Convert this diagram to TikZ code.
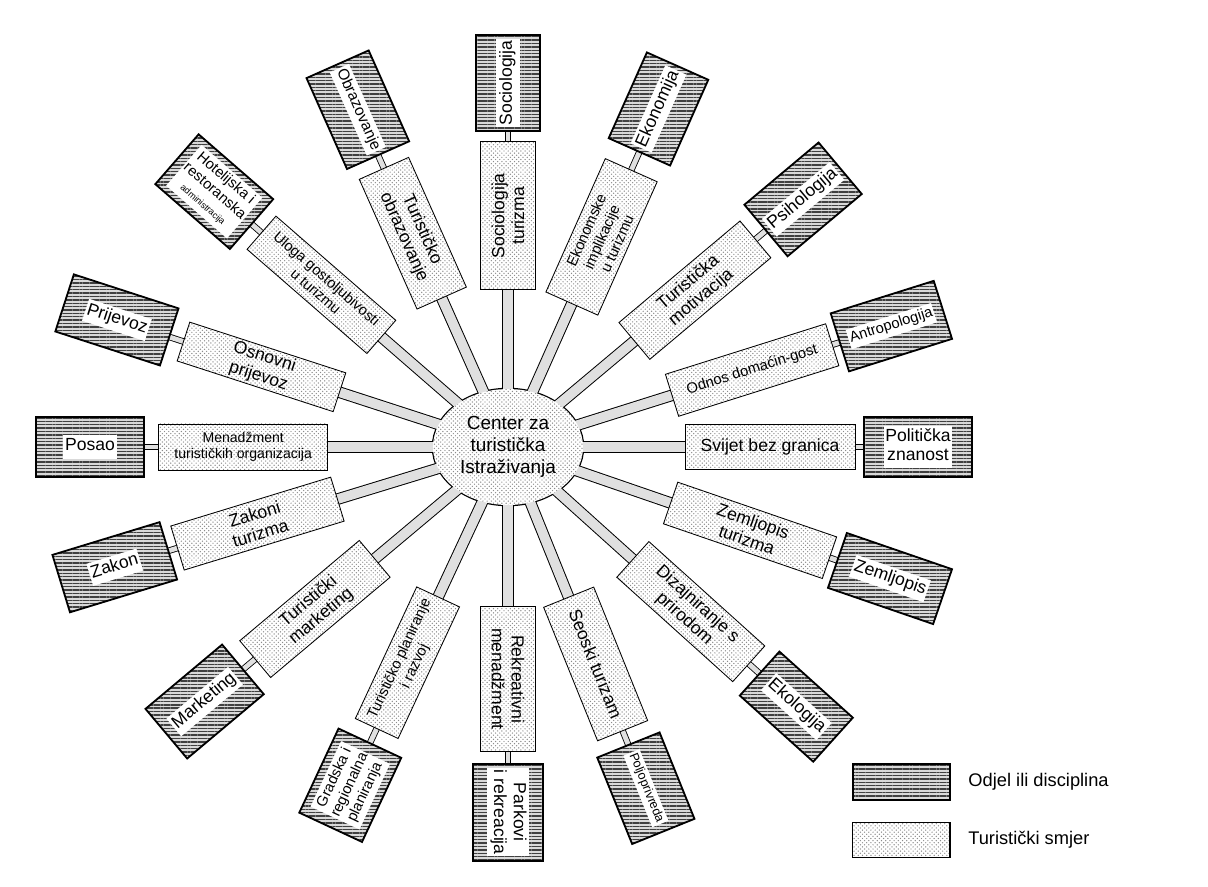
\documentclass[tikz,border=0pt]{standalone}
\usepackage{fontspec}
\setmainfont{Liberation Sans}
\usetikzlibrary{shapes.geometric,patterns,patterns.meta,backgrounds,positioning}
\setlength{\fboxsep}{1.2pt}
\def\bijelo#1{\colorbox{white}{\begin{tabular}{@{}c@{}}#1\end{tabular}}}
\tikzset{
  vel/.style 2 args={minimum width=#1cm, minimum height=#2cm},
  smjer/.style={draw, line width=0.6pt, preaction={fill=white}, pattern=crosshatch dots, pattern color=black!45, align=center, inner sep=1pt, font=\fontsize{12.5}{14}\selectfont},
  odjel/.style={draw, line width=1.3pt, preaction={fill=black!15}, pattern={Lines[distance=2.4pt, line width=1pt]}, pattern color=black!75, align=center, inner sep=3pt, font=\fontsize{12.5}{14}\selectfont},
  centar/.style={ellipse, minimum width=3.75cm, minimum height=2.9cm, preaction={fill=white}, pattern=crosshatch dots, pattern color=black!45, align=center, inner sep=0pt, font=\fontsize{13.5}{15.5}\selectfont},
  krak/.style={line width=0.7pt, double=black!12, double distance=0.24cm},
  veza/.style={line width=0.6pt, double=black!12, double distance=0.12cm},
  sitno/.style={font=\fontsize{10.5}{12}\selectfont},
}

\begin{document}
\begin{tikzpicture}
			%%%%% okvir %%%%%
			\useasboundingbox (-12.7,-11) rectangle (17.5,11.175);
			
			%%%%% sredina %%%%%
			\node[centar] (c) at (0,0) {Center za\\turistička\\Istraživanja};
			
			%%%%% turisticki smjerovi %%%%%
			\node[smjer, vel={4.25}{1.12}] (svijet) at (0:6.55) {Svijet bez granica};
			\node[smjer, sitno, vel={4.2}{1.1}, rotate=17.5] (odnos) at (17.5:6.4) {Odnos domaćin-gost};
			\node[smjer, vel={3.95}{1.2}, rotate=40] (motivacija) at (40:6.1) {Turistička\\motivacija};
			\node[smjer, sitno, vel={3.65}{1.42}, rotate=66] (ekonomske) at (66:5.75) {Ekonomske\\implikacije\\u turizmu};
			\node[smjer, vel={3.7}{1.38}, rotate=90] (socturizma) at (90:5.78) {Sociologija\\turizma};
			\node[smjer, vel={3.55}{1.35}, rotate=-66] (turobrazovanje) at (114:5.85) {Turističko\\obrazovanje};
			\node[smjer, sitno, vel={3.97}{1.1}, rotate=-41] (uloga) at (139:6.18) {Uloga gostoljubivosti\\u turizmu};
			\node[smjer, vel={4.1}{1.02}, rotate=-18] (osnovni) at (162:6.48) {Osnovni\\prijevoz};
			\node[smjer, font=\fontsize{10}{11.5}\selectfont, vel={4.22}{1.15}] (menadzment) at (180:6.62) {Menadžment\\turističkih organizacija};
			\node[smjer, vel={4.18}{1.15}, rotate=17] (zakoni) at (197:6.55) {Zakoni\\turizma};
			\node[smjer, vel={3.9}{1.2}, rotate=40] (turmarketing) at (220:6.3) {Turistički\\marketing};
			\node[smjer, sitno, vel={3.63}{1.18}, rotate=65] (planiranje) at (245:5.95) {Turističko planiranje\\i razvoj};
			\node[smjer, vel={3.63}{1.38}, rotate=-90] (rekreativni) at (270:5.8) {Rekreativni\\menadžment};
			\node[smjer, vel={3.6}{1.35}, rotate=-68] (seoski) at (292:5.85) {Seoski turizam};
			\node[smjer, vel={3.9}{1.2}, rotate=-42] (dizajn) at (318:6.15) {Dizajniranje s\\prirodom};
			\node[smjer, vel={4.2}{1.1}, rotate=-19] (zemturizma) at (341:6.4) {Zemljopis\\turizma};
			
			%%%%% odjeli ili discipline %%%%%
			\node[odjel, vel={2.7}{1.52}] (politicka) at (0:10.25) {\bijelo{Politička\\znanost}};
			\node[odjel, sitno, vel={2.7}{1.52}, rotate=17.5] (antropologija) at (17.5:10.05) {\bijelo{Antropologija}};
			\node[odjel, vel={2.4}{1.68}, rotate=40] (psihologija) at (40:9.63) {\bijelo{Psihologija}};
			\node[odjel, vel={2.3}{1.68}, rotate=66] (ekonomija) at (66:9.25) {\bijelo{Ekonomija}};
			\node[odjel, vel={2.38}{1.62}, rotate=90] (sociologija) at (90:9.1) {\bijelo{Sociologija}};
			\node[odjel, font=\fontsize{11}{12.5}\selectfont, vel={2.45}{1.7}, rotate=-66] (obrazovanje) at (114:9.23) {\bijelo{Obrazovanje}};
			\node[odjel, font=\fontsize{10.5}{12}\selectfont, vel={2.47}{1.65}, rotate=-41] (hotelijska) at (139:9.73) {\bijelo{Hotelijska i\\restoranska\\{\fontsize{6.5}{7.5}\selectfont administracija}}};
			\node[odjel, vel={2.75}{1.5}, rotate=-18] (prijevoz) at (162:10.28) {\bijelo{Prijevoz}};
			\node[odjel, vel={2.72}{1.5}] (posao) at (180:10.45) {\bijelo{Posao}};
			\node[odjel, vel={2.8}{1.5}, rotate=17] (zakon) at (197:10.28) {\bijelo{Zakon}};
			\node[odjel, vel={2.5}{1.62}, rotate=40] (marketing) at (220:9.9) {\bijelo{Marketing}};
			\node[odjel, sitno, vel={2.32}{1.73}, rotate=65] (gradska) at (245:9.33) {\bijelo{Gradska i\\regionalna\\planiranja}};
			\node[odjel, vel={2.38}{1.75}, rotate=-90] (parkovi) at (270:9.13) {\bijelo{Parkovi\\i rekreacija}};
			\node[odjel, font=\fontsize{9}{10}\selectfont, vel={2.33}{1.68}, rotate=-68] (poljoprivreda) at (292:9.2) {\bijelo{Poljoprivreda}};
			\node[odjel, vel={2.47}{1.48}, rotate=-42] (ekologija) at (318:9.7) {\bijelo{Ekologija}};
			\node[odjel, vel={2.78}{1.45}, rotate=-19] (zemljopis) at (341:10.1) {\bijelo{Zemljopis}};
			
			%%%%% kraci i veze %%%%%
			\begin{scope}[on background layer]
				\draw[line width=1.8pt] (c.center) ellipse [x radius=1.875cm, y radius=1.45cm];
				
				\draw[krak] (c.center) -- (svijet.center);
				\draw[krak] (c.center) -- (odnos.center);
				\draw[krak] (c.center) -- (motivacija.center);
				\draw[krak] (c.center) -- (ekonomske.center);
				\draw[krak] (c.center) -- (socturizma.center);
				\draw[krak] (c.center) -- (turobrazovanje.center);
				\draw[krak] (c.center) -- (uloga.center);
				\draw[krak] (c.center) -- (osnovni.center);
				\draw[krak] (c.center) -- (menadzment.center);
				\draw[krak] (c.center) -- (zakoni.center);
				\draw[krak] (c.center) -- (turmarketing.center);
				\draw[krak] (c.center) -- (planiranje.center);
				\draw[krak] (c.center) -- (rekreativni.center);
				\draw[krak] (c.center) -- (seoski.center);
				\draw[krak] (c.center) -- (dizajn.center);
				\draw[krak] (c.center) -- (zemturizma.center);
				
				\draw[veza] (svijet.center) -- (politicka.center);
				\draw[veza] (odnos.center) -- (antropologija.center);
				\draw[veza] (motivacija.center) -- (psihologija.center);
				\draw[veza] (ekonomske.center) -- (ekonomija.center);
				\draw[veza] (socturizma.center) -- (sociologija.center);
				\draw[veza] (turobrazovanje.center) -- (obrazovanje.center);
				\draw[veza] (uloga.center) -- (hotelijska.center);
				\draw[veza] (osnovni.center) -- (prijevoz.center);
				\draw[veza] (menadzment.center) -- (posao.center);
				\draw[veza] (zakoni.center) -- (zakon.center);
				\draw[veza] (turmarketing.center) -- (marketing.center);
				\draw[veza] (planiranje.center) -- (gradska.center);
				\draw[veza] (rekreativni.center) -- (parkovi.center);
				\draw[veza] (seoski.center) -- (poljoprivreda.center);
				\draw[veza] (dizajn.center) -- (ekologija.center);
				\draw[veza] (zemturizma.center) -- (zemljopis.center);
			\end{scope}
			
			%%%%% legenda %%%%%
			\node[odjel, vel={2.43}{0.88}] (legodjel) at (9.83,-8.375) {};
			\node[right=0.32cm of legodjel, font=\fontsize{13}{15}\selectfont] (legodjeltekst) {Odjel ili disciplina};
			\node[smjer, line width=1pt, vel={2.43}{0.88}] (legsmjer) at (9.83,-9.825) {};
			\node[right=0.32cm of legsmjer, font=\fontsize{13}{15}\selectfont] (legsmjertekst) {Turistički smjer};
			
\end{tikzpicture}
\end{document}
